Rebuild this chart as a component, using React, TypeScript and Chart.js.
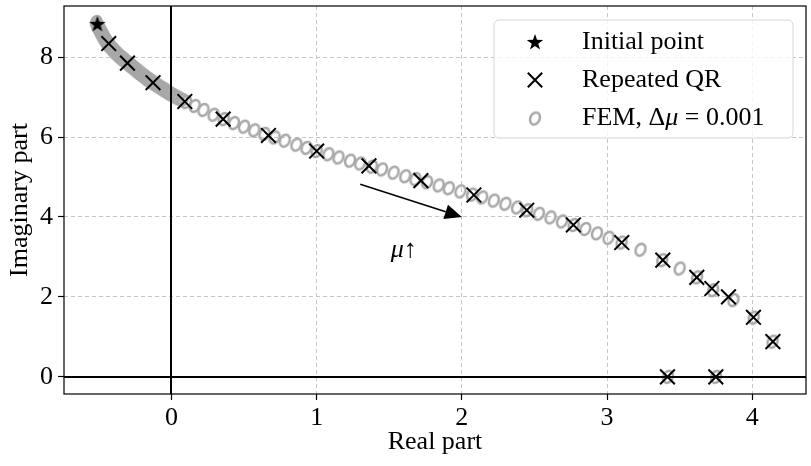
import React, { useEffect, useRef } from 'react';
import { Chart, registerables } from 'chart.js';

Chart.register(...registerables);

// ---------- data ----------
const initialReal = [-0.51];
const initialImag = [8.83];

const qrReal = [-0.432, -0.303, -0.127, 0.092, 0.356, 0.668, 1.0, 1.36, 1.718, 2.083, 2.447, 2.768, 3.101, 3.384, 3.618, 3.722, 3.836, 4.008, 4.142, 3.416, 3.749];
const qrImag = [8.34, 7.85, 7.36, 6.89, 6.45, 6.04, 5.65, 5.28, 4.91, 4.55, 4.17, 3.80, 3.36, 2.92, 2.49, 2.21, 2.00, 1.49, 0.88, 0.0, 0.0];

const femReal = [
  -0.520, -0.515, -0.510, -0.505, -0.500, -0.495, -0.490, -0.485, -0.480, -0.475,
  -0.470, -0.465, -0.460, -0.455, -0.450, -0.445, -0.440, -0.435, -0.430, -0.420,
  -0.410, -0.400, -0.390, -0.380, -0.370, -0.360, -0.350, -0.340, -0.330, -0.320,
  -0.310, -0.300, -0.290, -0.280, -0.270, -0.260, -0.250, -0.240, -0.230, -0.220,
  -0.210, -0.200, -0.190, -0.180, -0.170, -0.160, -0.150, -0.140, -0.130, -0.115,
  -0.100, -0.085, -0.070, -0.055, -0.040, -0.025, -0.010, 0.010, 0.030, 0.050,
  0.075, 0.10, 0.16, 0.22, 0.29, 0.36, 0.43, 0.50, 0.57, 0.64,
  0.71, 0.78, 0.86, 0.93, 1.00, 1.08, 1.15, 1.23, 1.30, 1.38,
  1.45, 1.53, 1.61, 1.68, 1.76, 1.84, 1.91, 1.99, 2.07, 2.14,
  2.22, 2.30, 2.38, 2.45, 2.53, 2.61, 2.69, 2.77, 2.85, 2.93,
  3.01, 3.10, 3.23, 3.38, 3.50, 3.62, 3.73, 3.87, 4.01, 4.14,
  3.42, 3.75,
];
const femImag = [
  8.88, 8.84, 8.80, 8.76, 8.73, 8.69, 8.66, 8.62, 8.59, 8.56,
  8.52, 8.49, 8.46, 8.43, 8.40, 8.37, 8.35, 8.32, 8.30, 8.26,
  8.22, 8.18, 8.14, 8.10, 8.07, 8.03, 8.00, 7.97, 7.94, 7.91,
  7.88, 7.85, 7.82, 7.79, 7.76, 7.73, 7.70, 7.67, 7.64, 7.61,
  7.58, 7.555, 7.53, 7.50, 7.47, 7.445, 7.42, 7.395, 7.37, 7.335,
  7.30, 7.265, 7.23, 7.195, 7.16, 7.125, 7.09, 7.05, 7.01, 6.97,
  6.925, 6.88, 6.78, 6.68, 6.56, 6.45, 6.35, 6.26, 6.17, 6.08,
  5.99, 5.91, 5.81, 5.73, 5.65, 5.57, 5.49, 5.41, 5.34, 5.26,
  5.19, 5.11, 5.02, 4.95, 4.87, 4.79, 4.72, 4.64, 4.56, 4.49,
  4.41, 4.33, 4.24, 4.17, 4.08, 3.99, 3.89, 3.80, 3.70, 3.59,
  3.48, 3.36, 3.18, 2.92, 2.71, 2.49, 2.17, 1.92, 1.48, 0.88,
  0.0, 0.0,
];

const xTicks = [0, 1, 2, 3, 4];
const yTicks = [0, 2, 4, 6, 8];
const xRange = [-0.74, 4.37];
const yRange = [-0.43, 9.28];

const xTitle = 'Real part';
const yTitle = 'Imaginary part';
const legendLabels = ['Initial point', 'Repeated QR', 'FEM,'];
const femLegendMath = ['Δ', 'μ', ' = 0.001'];
const arrowFrom = [1.3, 4.82];
const arrowTo = [2.0, 4.0];
const annotationPos = [1.6, 3.17];
const annotationText = ['μ', '↑'];

const FONT = "'Liberation Serif', 'Times New Roman', serif";
const FS = 26;
const FEM_COLOR = '#a8a8a8';

function toPoints(xs: number[], ys: number[]) {
  return xs.map((x, i) => ({ x, y: ys[i] }));
}

function makeItalicO(): HTMLCanvasElement {
  const c = document.createElement('canvas');
  c.width = 18;
  c.height = 18;
  const g = c.getContext('2d')!;
  g.strokeStyle = FEM_COLOR;
  g.lineWidth = 2.5;
  g.beginPath();
  g.ellipse(9, 9, 4.7, 6.2, 0.45, 0, Math.PI * 2);
  g.stroke();
  return c;
}

function makeStar(): HTMLCanvasElement {
  const c = document.createElement('canvas');
  c.width = 20;
  c.height = 20;
  const g = c.getContext('2d')!;
  g.fillStyle = '#000';
  g.beginPath();
  for (let i = 0; i < 10; i++) {
    const r = i % 2 === 0 ? 8.6 : 3.4;
    const a = -Math.PI / 2 + (i * Math.PI) / 5;
    const px = 10 + r * Math.cos(a);
    const py = 10.6 + r * Math.sin(a);
    if (i === 0) g.moveTo(px, py);
    else g.lineTo(px, py);
  }
  g.closePath();
  g.fill();
  return c;
}

export default function App() {
  const ref = useRef<HTMLCanvasElement>(null);

  useEffect(() => {
    if (!ref.current) return;
    const oImg = makeItalicO();
    const starImg = makeStar();

    const overlay = {
      id: 'overlay',
      afterDatasetsDraw(chart: any) {
        const { ctx, chartArea: a, scales } = chart;
        const xs = scales.x;
        const ys = scales.y;
        ctx.save();
        // zero lines
        ctx.strokeStyle = '#000';
        ctx.lineWidth = 2;
        const x0 = Math.round(xs.getPixelForValue(0));
        const y0 = Math.round(ys.getPixelForValue(0));
        ctx.beginPath();
        ctx.moveTo(x0, a.top);
        ctx.lineTo(x0, a.bottom);
        ctx.moveTo(a.left, y0);
        ctx.lineTo(a.right, y0);
        ctx.stroke();

        // arrow
        const ax1 = xs.getPixelForValue(arrowFrom[0]);
        const ay1 = ys.getPixelForValue(arrowFrom[1]);
        const ax2 = xs.getPixelForValue(arrowTo[0]);
        const ay2 = ys.getPixelForValue(arrowTo[1]);
        const ang = Math.atan2(ay2 - ay1, ax2 - ax1);
        const hl = 17;
        const hw = 7.5;
        const bx = ax2 - hl * Math.cos(ang);
        const by = ay2 - hl * Math.sin(ang);
        ctx.lineWidth = 1.5;
        ctx.beginPath();
        ctx.moveTo(ax1, ay1);
        ctx.lineTo(bx, by);
        ctx.stroke();
        ctx.fillStyle = '#000';
        ctx.beginPath();
        ctx.moveTo(ax2, ay2);
        ctx.lineTo(bx + hw * Math.sin(ang), by - hw * Math.cos(ang));
        ctx.lineTo(bx - hw * Math.sin(ang), by + hw * Math.cos(ang));
        ctx.closePath();
        ctx.fill();

        // annotation
        const tx = xs.getPixelForValue(annotationPos[0]);
        const ty = ys.getPixelForValue(annotationPos[1]);
        ctx.textBaseline = 'middle';
        ctx.font = `italic ${FS}px ${FONT}`;
        const w1 = ctx.measureText(annotationText[0]).width;
        ctx.font = `${FS}px ${FONT}`;
        const w2 = ctx.measureText(annotationText[1]).width;
        let cx = tx - (w1 + w2) / 2;
        ctx.textAlign = 'left';
        ctx.font = `italic ${FS}px ${FONT}`;
        ctx.fillText(annotationText[0], cx, ty);
        cx += w1;
        ctx.font = `${FS}px ${FONT}`;
        ctx.fillText(annotationText[1], cx, ty);

        // frame
        ctx.lineWidth = 1.2;
        ctx.strokeStyle = '#000';
        ctx.strokeRect(a.left, a.top, a.right - a.left, a.bottom - a.top);

        // legend
        const lx = a.right - 312;
        const ly = a.top + 14;
        const lw = 299;
        const lh = 118;
        ctx.beginPath();
        ctx.roundRect(lx, ly, lw, lh, 5);
        ctx.fillStyle = 'rgba(255,255,255,0.8)';
        ctx.fill();
        ctx.strokeStyle = '#d6d6d6';
        ctx.lineWidth = 1;
        ctx.stroke();

        const mx = lx + 41;
        const tx0 = lx + 88;
        const rows = [ly + 22, ly + 60, ly + 98.5];
        // star
        ctx.drawImage(starImg, mx - 10, rows[0] - 10);
        // cross
        ctx.strokeStyle = '#000';
        ctx.lineWidth = 2;
        const r = 7.2;
        ctx.beginPath();
        ctx.moveTo(mx - r, rows[1] - r);
        ctx.lineTo(mx + r, rows[1] + r);
        ctx.moveTo(mx - r, rows[1] + r);
        ctx.lineTo(mx + r, rows[1] - r);
        ctx.stroke();
        // italic o
        ctx.drawImage(oImg, mx - 9, rows[2] - 9);

        ctx.fillStyle = '#000';
        ctx.textAlign = 'left';
        ctx.textBaseline = 'middle';
        ctx.font = `${FS}px ${FONT}`;
        ctx.fillText(legendLabels[0], tx0, rows[0]);
        ctx.fillText(legendLabels[1], tx0, rows[1]);
        let fx = tx0;
        ctx.fillText(legendLabels[2], fx, rows[2]);
        fx += ctx.measureText(legendLabels[2] + ' ').width;
        ctx.fillText(femLegendMath[0], fx, rows[2]);
        fx += ctx.measureText(femLegendMath[0]).width;
        ctx.font = `italic ${FS}px ${FONT}`;
        ctx.fillText(femLegendMath[1], fx, rows[2]);
        fx += ctx.measureText(femLegendMath[1]).width;
        ctx.font = `${FS}px ${FONT}`;
        ctx.fillText(femLegendMath[2], fx, rows[2]);
        ctx.restore();
      },
    };

    const tickFont = { family: FONT, size: FS, lineHeight: 1.2 };
    const gridCommon = {
      color: '#c6c6c6',
      lineWidth: 1,
      tickColor: '#000',
      tickBorderDash: [],
      tickWidth: 1.2,
      tickLength: 6,
      drawTicks: true,
    };
    const zeroPad = (s: any) => {
      s.paddingTop = 0;
      s.paddingBottom = 0;
      s.paddingLeft = 0;
      s.paddingRight = 0;
    };

    const chart = new Chart(ref.current, {
      type: 'scatter',
      data: {
        datasets: [
          {
            label: legendLabels[0],
            data: toPoints(initialReal, initialImag),
            pointStyle: starImg as any,
            pointRadius: 7,
            showLine: false,
            clip: false,
          },
          {
            label: legendLabels[1],
            data: toPoints(qrReal, qrImag),
            pointStyle: 'crossRot',
            pointRadius: 10.4,
            pointBorderWidth: 2,
            borderColor: '#000',
            backgroundColor: '#000',
            showLine: false,
            clip: false,
          },
          {
            label: legendLabels[2],
            data: toPoints(femReal, femImag),
            pointStyle: oImg as any,
            pointRadius: 6,
            showLine: false,
            clip: false,
          },
        ],
      },
      options: {
        responsive: false,
        animation: false,
        events: [],
        layout: { autoPadding: false, padding: { top: 6, right: 5, left: 0, bottom: 0 } },
        plugins: { legend: { display: false }, tooltip: { enabled: false } },
        scales: {
          x: {
            type: 'linear',
            min: xRange[0],
            max: xRange[1],
            afterBuildTicks: (s: any) => {
              s.ticks = xTicks.map((v) => ({ value: v }));
            },
            afterFit: (s: any) => {
              s.height = 72;
              zeroPad(s);
            },
            ticks: { font: tickFont, color: '#000', padding: 3, callback: (v: any) => String(v) },
            grid: gridCommon as any,
            border: { display: false, dash: [4, 3] },
            title: {
              display: true,
              text: xTitle,
              font: { family: FONT, size: FS, lineHeight: 1.2 },
              color: '#000',
              padding: { top: 0, bottom: 8 },
            },
          },
          y: {
            type: 'linear',
            min: yRange[0],
            max: yRange[1],
            afterBuildTicks: (s: any) => {
              s.ticks = yTicks.map((v) => ({ value: v }));
            },
            afterFit: (s: any) => {
              s.width = 64;
              zeroPad(s);
            },
            ticks: { font: tickFont, color: '#000', padding: 5, callback: (v: any) => String(v) },
            grid: gridCommon as any,
            border: { display: false, dash: [4, 3] },
            title: {
              display: true,
              text: yTitle,
              font: { family: FONT, size: FS, lineHeight: 1.2 },
              color: '#000',
              padding: { top: 5, bottom: 0 },
            },
          },
        },
      },
      plugins: [overlay],
    });
    return () => chart.destroy();
  }, []);

  return (
    <div style={{ position: 'fixed', left: 0, top: 0, width: 811, height: 466, background: '#fff' }}>
      <canvas ref={ref} width={811} height={466} />
    </div>
  );
}
